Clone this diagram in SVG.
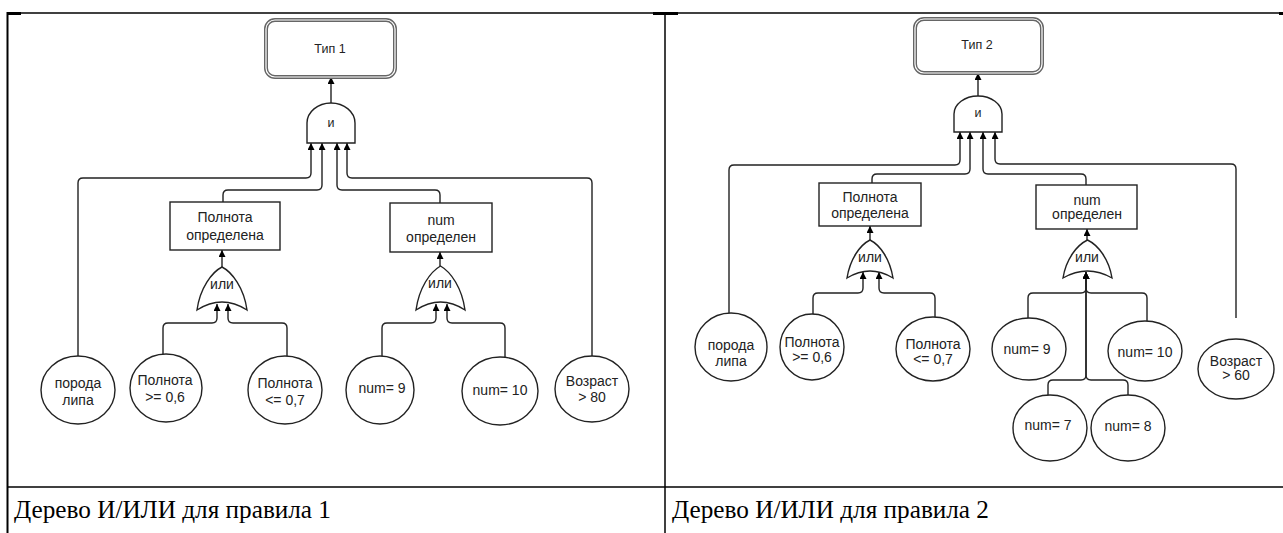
<svg xmlns="http://www.w3.org/2000/svg" width="1283" height="533" viewBox="0 0 1283 533">
<style>
.t{font-family:"Liberation Sans",Arial,sans-serif;font-size:14px;fill:#222;text-anchor:middle}
.s{font-size:12.5px}
.cap{font-family:"Liberation Serif","Times New Roman",serif;font-size:25px;fill:#000}
.n{fill:#fff;stroke:#222;stroke-width:1.4}
.g{fill:#fff;stroke:#222;stroke-width:1.4}
.c{fill:none;stroke:#222;stroke-width:1.4;marker-end:url(#a)}
.tb{stroke:#000;stroke-width:1.5}
</style>
<defs>
<marker id="a" viewBox="0 0 10 10" refX="10" refY="5" markerWidth="7" markerHeight="7" markerUnits="userSpaceOnUse" orient="auto">
<path d="M0,0 L10,5 L0,10 Z" fill="#000"/>
</marker>
</defs>
<rect width="1283" height="533" fill="#fff"/>
<g id="table">
<line class="tb" x1="7" y1="13" x2="1283" y2="13"/>
<rect x="7" y="12" width="14" height="3" fill="#000"/>
<rect x="653" y="12" width="25" height="3" fill="#000"/>
<rect x="1279" y="12" width="4" height="3" fill="#000"/>
<line x1="7.5" y1="12" x2="7.5" y2="533" stroke="#000" stroke-width="2"/>
<line class="tb" x1="665" y1="13" x2="665" y2="533"/>
<line class="tb" x1="7" y1="487" x2="1283" y2="487"/>
<text class="cap" x="14" y="518" textLength="317" lengthAdjust="spacingAndGlyphs">Дерево И/ИЛИ для правила 1</text>
<text class="cap" x="672" y="518" textLength="317" lengthAdjust="spacingAndGlyphs">Дерево И/ИЛИ для правила 2</text>
</g>
<g id="connectors">
<path class="c" d="M331,103 L331,77"/>
<path class="c" d="M78,357 L78,183 Q78,178 83,178 L306,178 Q311,178 311,173 L311,143"/>
<path class="c" d="M223,202 L223,195 Q223,190 228,190 L317,190 Q322,190 322,185 L322,143"/>
<path class="c" d="M440,203 L440,195 Q440,190 435,190 L342,190 Q337,190 337,185 L337,143"/>
<path class="c" d="M592,356 L592,183 Q592,178 587,178 L352,178 Q347,178 347,173 L347,143"/>
<path class="c" d="M222,267 L222,250"/>
<path class="c" d="M163,355 L163,328 Q163,323 168,323 L212,323 Q217,323 217,318 L217,304"/>
<path class="c" d="M287,356 L287,328 Q287,323 282,323 L233,323 Q228,323 228,318 L228,304"/>
<path class="c" d="M440,266 L440,252"/>
<path class="c" d="M382,357 L382,328 Q382,323 387,323 L431,323 Q436,323 436,318 L436,304"/>
<path class="c" d="M505,357 L505,328 Q505,323 500,323 L452,323 Q447,323 447,318 L447,304"/>
<path class="c" d="M978,96 L978,73"/>
<path class="c" d="M729,313 L729,170 Q729,165 734,165 L955,165 Q960,165 960,160 L960,132"/>
<path class="c" d="M872,183 L872,179 Q872,174 877,174 L965,174 Q970,174 970,169 L970,132"/>
<path class="c" d="M1086,185 L1086,179 Q1086,174 1081,174 L988,174 Q983,174 983,169 L983,132"/>
<path class="c" d="M1236,318 L1236,169 Q1236,164 1231,164 L1000,164 Q995,164 995,159 L995,132"/>
<path class="c" d="M870,240 L870,226"/>
<path class="c" d="M813,315 L813,298 Q813,293 818,293 L858,293 Q863,293 863,288 L863,272"/>
<path class="c" d="M935,317 L935,298 Q935,293 930,293 L884,293 Q879,293 879,288 L879,272"/>
<path class="c" d="M1087,240 L1087,229"/>
<path class="c" d="M1028,318 L1028,298 Q1028,293 1033,293 L1081,293 Q1086,293 1086,288 L1086,272"/>
<path class="c" d="M1147,321 L1147,298 Q1147,293 1142,293 L1091,293 Q1086,293 1086,288 L1086,272"/>
<path class="c" d="M1048,396 L1048,385 Q1048,380 1053,380 L1081,380 Q1086,380 1086,375 L1086,272"/>
<path class="c" d="M1128,396 L1128,385 Q1128,380 1123,380 L1091,380 Q1086,380 1086,375 L1086,272"/>
</g>
<g id="type1">
<rect x="266" y="20" width="129" height="57" rx="9" fill="#fff" stroke="#666" stroke-width="4"/>
<rect x="266" y="20" width="129" height="57" rx="9" fill="none" stroke="#fff" stroke-width="1.2"/>
<text class="t s" x="330" y="53">Тип 1</text>
</g>
<g id="and1">
<path class="g" d="M307,143 L307,123 A24,20 0 0 1 355,123 L355,143 Z"/>
<text class="t s" x="331" y="127">и</text>
</g>
<g id="box-polnota1">
<rect class="n" x="170" y="202" width="110" height="48"/>
<text class="t" x="225" y="222">Полнота</text>
<text class="t" x="225" y="240">определена</text>
</g>
<g id="box-num1">
<rect class="n" x="390" y="203" width="102" height="49"/>
<text class="t" x="441" y="225">num</text>
<text class="t" x="441" y="242">определен</text>
</g>
<g id="or1">
<path class="g" d="M197,310 C200,288 212,272 222,267 C232,272 244,288 247,310 Q222,294 197,310 Z"/>
<text class="t" x="222" y="289">или</text>
</g>
<g id="or2">
<path class="g" d="M416,310 C419,288 430,272 440.5,266 C451,272 462,288 465,310 Q440.5,294 416,310 Z"/>
<text class="t" x="440" y="288">или</text>
</g>
<g id="e-poroda1"><ellipse class="n" cx="78" cy="390" rx="37" ry="34"/><text class="t" x="78" y="388">порода</text><text class="t" x="78" y="405">липа</text></g>
<g id="e-pol1a"><ellipse class="n" cx="166" cy="388" rx="36" ry="34"/><text class="t" x="165" y="385">Полнота</text><text class="t" x="165" y="402">&gt;= 0,6</text></g>
<g id="e-pol1b"><ellipse class="n" cx="285" cy="390" rx="37" ry="34"/><text class="t" x="285" y="388">Полнота</text><text class="t" x="285" y="405">&lt;= 0,7</text></g>
<g id="e-num9a"><ellipse class="n" cx="380" cy="390" rx="34" ry="34"/><text class="t" x="382" y="393">num= 9</text></g>
<g id="e-num10a"><ellipse class="n" cx="500" cy="391" rx="38" ry="34"/><text class="t" x="500" y="395">num= 10</text></g>
<g id="e-voz1"><ellipse class="n" cx="592" cy="389" rx="37" ry="33"/><text class="t" x="592" y="386">Возраст</text><text class="t" x="592" y="402">&gt; 80</text></g>
<g id="type2">
<rect x="915" y="19" width="127" height="54" rx="9" fill="#fff" stroke="#666" stroke-width="4"/>
<rect x="915" y="19" width="127" height="54" rx="9" fill="none" stroke="#fff" stroke-width="1.2"/>
<text class="t s" x="977" y="49">Тип 2</text>
</g>
<g id="and2">
<path class="g" d="M954,132 L954,114 A24,18 0 0 1 1002,114 L1002,132 Z"/>
<text class="t s" x="978" y="117">и</text>
</g>
<g id="box-polnota2">
<rect class="n" x="819" y="183" width="102" height="43"/>
<text class="t" x="870" y="202">Полнота</text>
<text class="t" x="870" y="218">определена</text>
</g>
<g id="box-num2">
<rect class="n" x="1036" y="185" width="101" height="44"/>
<text class="t" x="1087" y="205">num</text>
<text class="t" x="1087" y="219">определен</text>
</g>
<g id="or3">
<path class="g" d="M847,278 C850,259 860,245 870,240 C880,245 890,259 893,278 Q870,264 847,278 Z"/>
<text class="t" x="870" y="262">или</text>
</g>
<g id="or4">
<path class="g" d="M1063,278 C1066,259 1077,245 1087.5,240 C1098,245 1109,259 1112,278 Q1087.5,264 1063,278 Z"/>
<text class="t" x="1087" y="262">или</text>
</g>
<g id="e-poroda2"><ellipse class="n" cx="731" cy="347" rx="36" ry="34"/><text class="t" x="731" y="350">порода</text><text class="t" x="731" y="366">липа</text></g>
<g id="e-pol2a"><ellipse class="n" cx="812" cy="347" rx="32" ry="33"/><text class="t" x="812" y="347">Полнота</text><text class="t" x="812" y="362">&gt;= 0,6</text></g>
<g id="e-pol2b"><ellipse class="n" cx="933" cy="349" rx="37" ry="32"/><text class="t" x="933" y="349">Полнота</text><text class="t" x="933" y="364">&lt;= 0,7</text></g>
<g id="e-num9b"><ellipse class="n" cx="1029" cy="349" rx="37" ry="31"/><text class="t" x="1027" y="354">num= 9</text></g>
<g id="e-num10b"><ellipse class="n" cx="1145" cy="351" rx="37" ry="30"/><text class="t" x="1145" y="357">num= 10</text></g>
<g id="e-num7"><ellipse class="n" cx="1050" cy="428" rx="37" ry="33"/><text class="t" x="1048" y="430">num= 7</text></g>
<g id="e-num8"><ellipse class="n" cx="1128" cy="428" rx="37" ry="33"/><text class="t" x="1128" y="431">num= 8</text></g>
<g id="e-voz2"><ellipse class="n" cx="1236" cy="369" rx="38" ry="30"/><text class="t" x="1236" y="366">Возраст</text><text class="t" x="1236" y="380">&gt; 60</text></g>
</svg>
